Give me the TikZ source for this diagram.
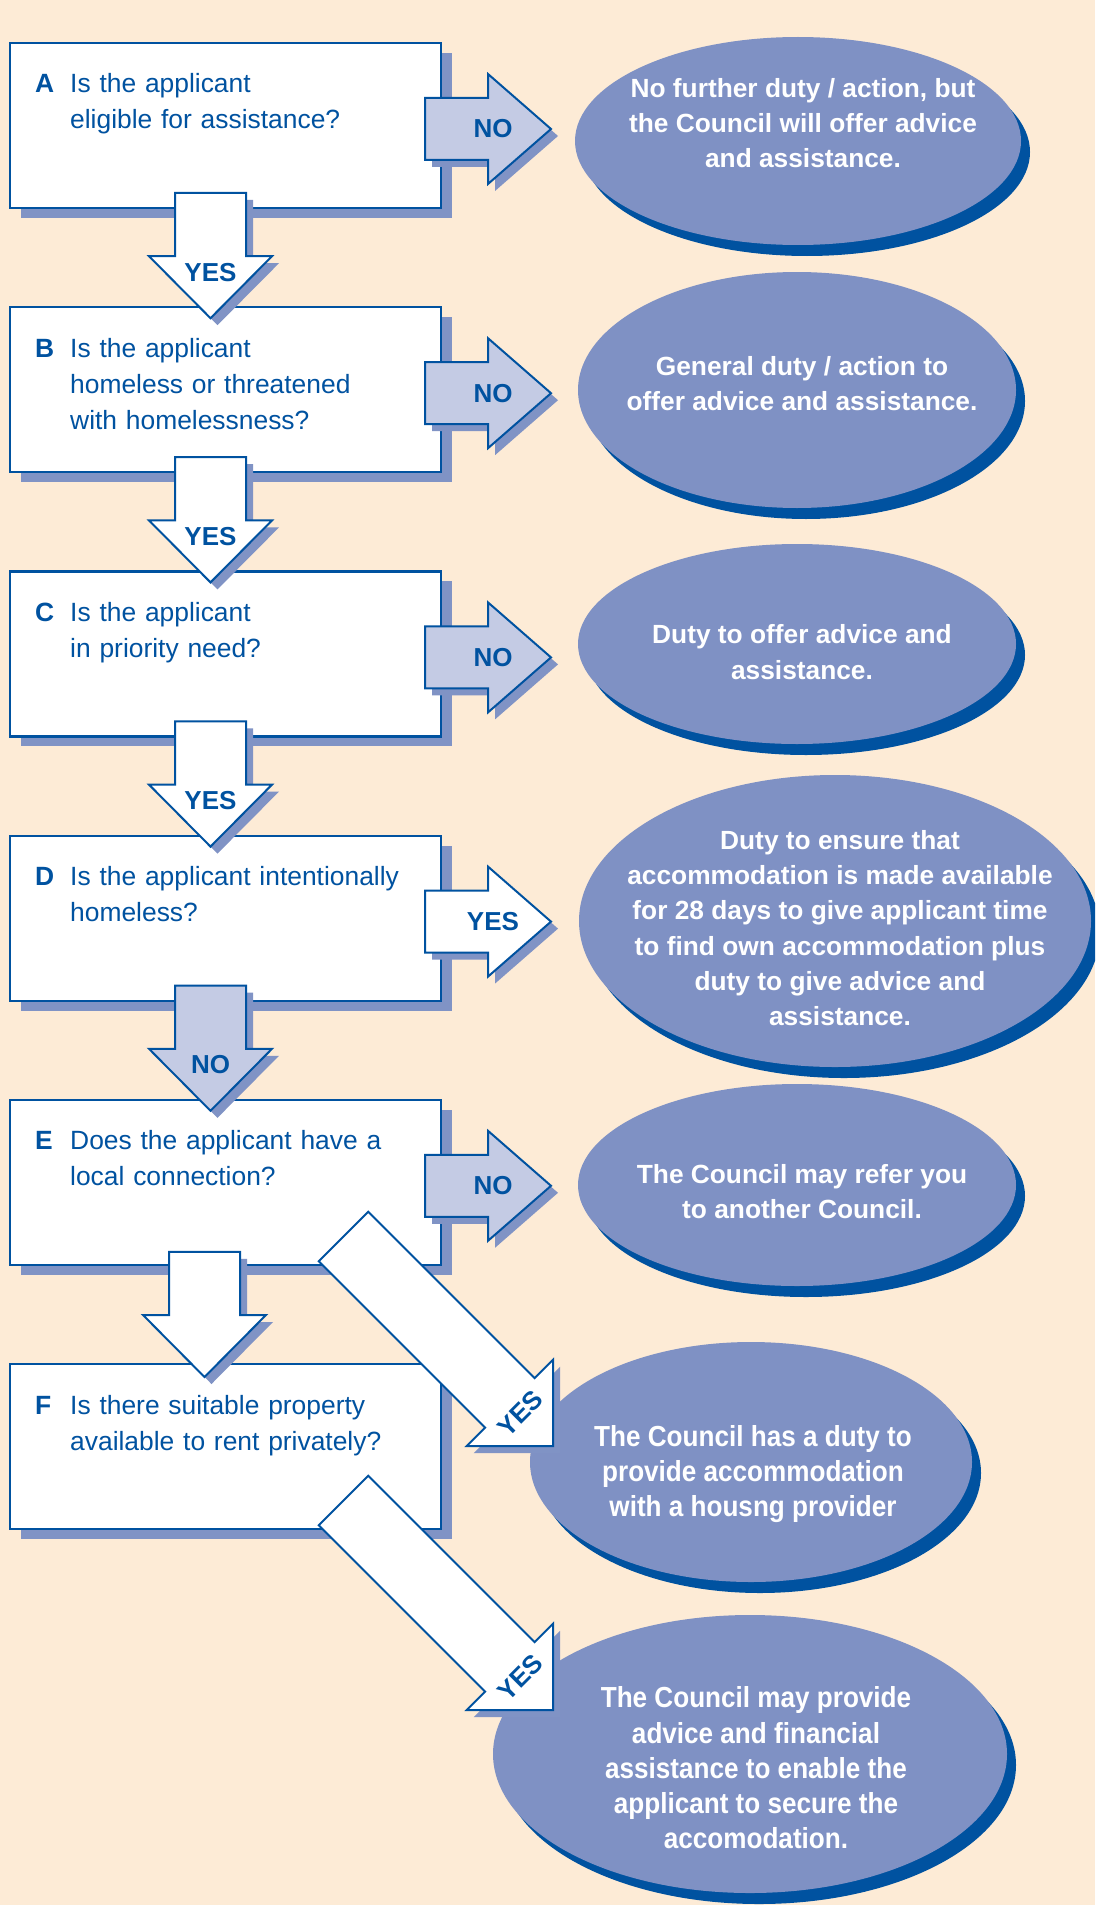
\documentclass[tikz,border=0pt]{standalone}
\usepackage{fontspec}
\setmainfont{Liberation Sans}
\newfontfamily\narrowsans[FakeStretch=0.9]{Liberation Sans}
\usetikzlibrary{calc,shapes.geometric}
\definecolor{bgpeach}{RGB}{253,235,214}
\definecolor{qblue}{RGB}{0,82,160}
\definecolor{ovalblue}{RGB}{127,145,196}
\definecolor{shade}{RGB}{128,147,197}
\definecolor{nofill}{RGB}{196,203,228}
\newcommand{\obold}{\fontsize{26.3}{35.3}\selectfont\bfseries}
\newcommand{\onarrow}{\narrowsans\fontsize{29}{35.3}\selectfont\bfseries}
\tikzset{
  qbox/.style={draw=qblue, fill=white, line width=2.2pt, minimum width=431pt,
               minimum height=165pt, anchor=north west, inner sep=0pt, outer sep=0pt,
               preaction={fill=shade, draw=none, transform canvas={shift={(11pt,-10pt)}}}},
  qletter/.style={anchor=base west, inner sep=0pt, text=qblue,
                  font=\fontsize{26.4}{36}\selectfont\bfseries},
  qtext/.style={anchor=base west, inner sep=0pt, text=qblue, text width=360pt, align=left,
                font=\fontsize{26.4}{36}\selectfont},
  oval/.style={ellipse, fill=ovalblue, inner sep=0pt, outer sep=0pt,
               preaction={fill=qblue, transform canvas={shift={(9pt,-11pt)}}}},
  otext/.style={text=white, align=center, inner sep=0pt},
  alabel/.style={text=qblue, inner sep=0pt, font=\fontsize{26}{30}\selectfont\bfseries},
  shaft/.store in=\ashaft, head/.store in=\ahead, tiplen/.store in=\atip,
  afill/.store in=\afill, lrot/.store in=\alrot, lpos/.store in=\alpos,
  shaft=35.5pt, head=61.5pt, tiplen=62pt, afill=white, lrot=0, lpos=16pt,
  rightarr/.style={shaft=31pt, head=55pt, tiplen=63pt, lpos=5pt},
  diagarr/.style={shaft=35pt, head=61pt, tiplen=61pt, lrot=45, lpos=15pt},
  barrow/.style={draw=qblue, line width=2pt, fill=\afill,
                 preaction={fill=shade, draw=none, transform canvas={shift={(7pt,-7pt)}}}},
}
\newcommand{\blockarrow}[4][]{%
  \begin{scope}[#1]
    \coordinate (hb) at ($(#3)!\atip!(#2)$);
    \path[barrow] ($(#2)!\ashaft!90:(#3)$) -- ($(hb)!\ashaft!90:(#3)$)
      -- ($(hb)!\ahead!90:(#3)$) -- (#3) -- ($(hb)!\ahead!-90:(#3)$)
      -- ($(hb)!\ashaft!-90:(#3)$) -- ($(#2)!\ashaft!-90:(#3)$) -- cycle;
    \node[alabel, rotate=\alrot] at ($(hb)!\alpos!(#3)$) {#4};
  \end{scope}}
\begin{document}
\begin{tikzpicture}[x=1pt, y=-1pt]
 \useasboundingbox (0,0) rectangle (1095,1905);
 \clip (0,0) rectangle (1095,1905);
 \fill[bgpeach] (0,0) rectangle (1095,1905);

 \foreach \q/\yy/\txt in {%
   A/43/{Is the applicant\\eligible for assistance?},
   B/307.2/{Is the applicant\\homeless or threatened\\with homelessness?},
   C/571.4/{Is the applicant\\in priority need?},
   D/835.6/{Is the applicant intentionally\\homeless?},
   E/1099.8/{Does the applicant have a\\local connection?},
   F/1364/{Is there suitable property\\available to rent privately?}}
 {
   \node[qbox] (q\q) at (10,\yy) {};
   \node[qletter] (l\q) at ($(q\q.north west)+(25,50)$) {\q};
   \node[qtext] (t\q) at ($(q\q.north west)+(60,50)$) {\txt};
 }

 \foreach \o/\cx/\cy/\w/\h/\tx/\ty/\fnt/\txt in {%
   A/798/141/446/208/803/123/\obold/{No further duty / action, but\\the Council will offer advice\\and assistance.},
   B/797/390/438/236/802/383.5/\obold/{General duty / action to\\offer advice and assistance.},
   C/797/644/438/200/802/652/\obold/{Duty to offer advice and\\assistance.},
   D/835/921/512/292/840/928/\obold/{Duty to ensure that\\accommodation is made available\\for 28 days to give applicant time\\to find own accommodation plus\\duty to give advice and\\assistance.},
   E/797/1185/438/202/802/1191.6/\obold/{The Council may refer you\\to another Council.},
   F/751/1462/442/240/753/1474/\onarrow/{The Council has a duty to\\provide accommodation\\with a housng provider},
   G/750/1754/514/278/756/1768/\onarrow/{The Council may provide\\advice and financial\\assistance to enable the\\applicant to secure the\\accomodation.}}
 {
   \node[oval, minimum width=\w, minimum height=\h] (o\o) at (\cx,\cy) {};
   \node[otext, font=\fnt] (ot\o) at (\tx,\ty) {\txt};
 }

 \foreach \a/\b/\f/\l in {A/B/white/YES, B/C/white/YES, C/D/white/YES, D/E/nofill/NO}
 {
   \coordinate (s\a\b) at ($(q\a.south west)+(200.5,-15)$);
   \coordinate (t\a\b) at ($(q\b.north west)+(200.5,11)$);
   \blockarrow[afill=\f]{s\a\b}{t\a\b}{\l}
 }
 \coordinate (sEF) at ($(qE.south west)+(194.5,-13)$);
 \coordinate (tEF) at ($(qF.north west)+(194.5,13)$);
 \blockarrow{sEF}{tEF}{}

 \foreach \a/\f/\l in {A/nofill/NO, B/nofill/NO, C/nofill/NO, D/white/YES, E/nofill/NO}
 {
   \coordinate (r\a) at ($(q\a.north east)+(-16,86)$);
   \coordinate (n\a) at ($(q\a.north east)+(110,86)$);
   \blockarrow[rightarr, afill=\f]{r\a}{n\a}{\l}
 }

 \coordinate (dE) at ($(qE.south west)+(333.5,-28.3)$);
 \coordinate (dF) at ($(oF.center)+(-198,-16)$);
 \blockarrow[diagarr]{dE}{dF}{YES}
 \coordinate (dG) at ($(qF.south west)+(333.5,-28.5)$);
 \coordinate (dH) at ($(oG.center)+(-197,-44)$);
 \blockarrow[diagarr]{dG}{dH}{YES}
\end{tikzpicture}
\end{document}
